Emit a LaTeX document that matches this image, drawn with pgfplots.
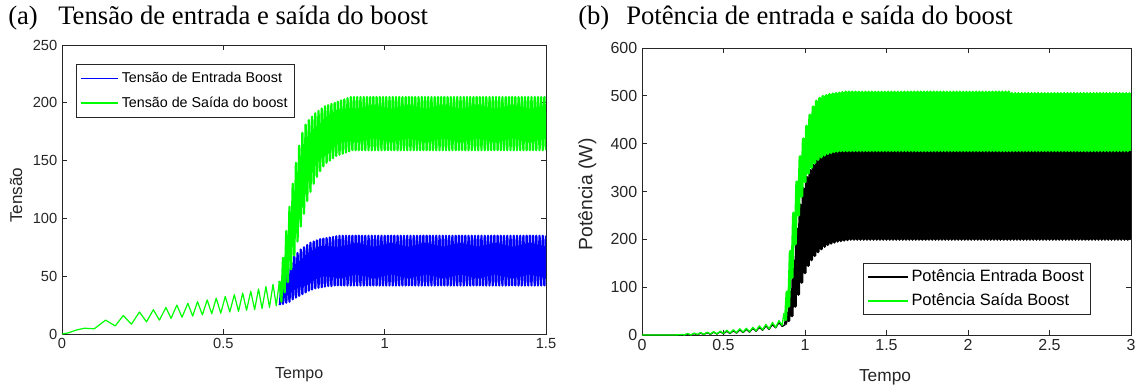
\documentclass[border=0pt]{standalone}
\usepackage{fontspec}
\setmainfont{Liberation Serif}
\setsansfont{Liberation Sans}
\usepackage{pgfplots}
\pgfplotsset{compat=1.18}
\definecolor{axgray}{RGB}{38,38,38}
\definecolor{mgreen}{RGB}{0,255,0}
\definecolor{mblue}{RGB}{0,0,255}
\pgfplotsset{mstyle/.style={
  scale only axis, anchor=north west,
  tick align=inside, tick pos=both,
  axis line style={draw=axgray, line width=0.6pt},
  major tick style={draw=axgray, line width=0.6pt},
  major tick length=3.75pt,
  /pgf/number format/assume math mode=true,
  ticklabel style={text=axgray},
  legend style={draw=axgray, line width=0.6pt, fill=white, cells={anchor=west}},
  legend cell align=left,
  clip mode=individual,
}}
\begin{document}
\begin{tikzpicture}
\useasboundingbox (0pt,0pt) rectangle (855.75pt,-288.75pt);
\node[anchor=base west, font=\fontsize{20}{24}\selectfont, inner sep=0pt] at (6pt,-18.75pt) {(a)};
\node[anchor=base west, font=\fontsize{20}{24}\selectfont, inner sep=0pt] at (43.5pt,-18.75pt) {Tensão de entrada e saída do boost};
\node[anchor=base west, font=\fontsize{20}{24}\selectfont, inner sep=0pt] at (433.5pt,-18.75pt) {(b)};
\node[anchor=base west, font=\fontsize{20}{24}\selectfont, inner sep=0pt] at (469.5pt,-18.75pt) {Potência de entrada e saída do boost};

\begin{axis}[mstyle,
  at={(46.5pt,-33.75pt)}, width=363pt, height=216.75pt,
  xmin=0, xmax=1.5, ymin=0, ymax=250,
  xtick={0,0.5,1,1.5}, ytick={0,50,100,150,200,250},
  ticklabel style={font=\sffamily\fontsize{11}{13}\selectfont},
  xlabel={Tempo}, ylabel={Tensão},
  every axis x label/.style={at={(axis description cs:0.49,-0.142)}, anchor=center, text=axgray, font=\sffamily\fontsize{12}{14}\selectfont},
  every axis y label/.style={at={(axis description cs:-0.095,0.48)}, anchor=center, rotate=90, text=axgray, font=\sffamily\fontsize{12.8}{14}\selectfont},
  legend style={at={(axis description cs:0.029,0.934)}, anchor=north west,
    font=\sffamily\fontsize{10.7}{12}\selectfont, inner xsep=3pt, inner ysep=4pt, row sep=5pt},
  legend image code/.code={\draw[line width=1.05pt] (0pt,0pt) -- (28pt,0pt);},
]
\addplot[mblue, line width=1.7pt, line join=round] coordinates {
(0.675,25) (0.68,42) (0.685,26) (0.69,50) (0.695,27) (0.70,56) (0.705,28) (0.71,62) (0.715,30) (0.72,67)
(0.725,31.5) (0.73,70) (0.735,33) (0.74,73) (0.745,34.5) (0.75,75) (0.755,36) (0.76,77) (0.765,37.5) (0.77,79)
(0.775,38.5) (0.78,80) (0.785,39.5) (0.79,81) (0.795,40) (0.80,82) (0.805,40.5) (0.81,82.5) (0.815,41) (0.82,83)
(0.825,41.5) (0.83,83.5) (0.835,41.5) (0.84,84) (0.845,42) (0.85,84.5) (0.855,42) (0.86,85)
(0.865,42) (0.87,85) (0.875,42) (0.88,85) (0.885,42) (0.89,85) (0.895,42) (0.90,85)
(0.905,42) (0.91,85) (0.915,42) (0.92,85) (0.925,42) (0.93,85) (0.935,42) (0.94,85) (0.945,42) (0.95,85)
(0.955,42) (0.96,85) (0.965,42) (0.97,85) (0.975,42) (0.98,85) (0.985,42) (0.99,85) (0.995,42) (1.00,85)
(1.005,42) (1.01,85) (1.015,42) (1.02,85) (1.025,42) (1.03,85) (1.035,42) (1.04,85) (1.045,42) (1.05,85)
(1.055,42) (1.06,85) (1.065,42) (1.07,85) (1.075,42) (1.08,85) (1.085,42) (1.09,85) (1.095,42) (1.10,85)
(1.105,42) (1.11,85) (1.115,42) (1.12,85) (1.125,42) (1.13,85) (1.135,42) (1.14,85) (1.145,42) (1.15,85)
(1.155,42) (1.16,85) (1.165,42) (1.17,85) (1.175,42) (1.18,85) (1.185,42) (1.19,85) (1.195,42) (1.20,85)
(1.205,42) (1.21,85) (1.215,42) (1.22,85) (1.225,42) (1.23,85) (1.235,42) (1.24,85) (1.245,42) (1.25,85)
(1.255,42) (1.26,85) (1.265,42) (1.27,85) (1.275,42) (1.28,85) (1.285,42) (1.29,85) (1.295,42) (1.30,85)
(1.305,42) (1.31,85) (1.315,42) (1.32,85) (1.325,42) (1.33,85) (1.335,42) (1.34,85) (1.345,42) (1.35,85)
(1.355,42) (1.36,85) (1.365,42) (1.37,85) (1.375,42) (1.38,85) (1.385,42) (1.39,85) (1.395,42) (1.40,85)
(1.405,42) (1.41,85) (1.415,42) (1.42,85) (1.425,42) (1.43,85) (1.435,42) (1.44,85) (1.445,42) (1.45,85)
(1.455,42) (1.46,85) (1.465,42) (1.47,85) (1.475,42) (1.48,85) (1.485,42) (1.49,85) (1.495,42) (1.50,85)
};
\addlegendentry{Tensão de Entrada Boost}
\addplot[mgreen, line width=1.7pt, line join=round] coordinates {
(0.674,46)
(0.68,28) (0.685,66) (0.69,36) (0.695,89) (0.70,45) (0.705,110) (0.71,56) (0.715,130) (0.72,68) (0.725,148)
(0.73,80) (0.735,163) (0.74,93) (0.745,174) (0.75,104) (0.755,181) (0.76,115) (0.765,185) (0.77,123) (0.775,188)
(0.78,130) (0.785,191) (0.79,136) (0.795,193) (0.80,141) (0.805,195) (0.81,145) (0.815,197) (0.82,148) (0.825,198)
(0.83,150) (0.835,199) (0.84,152) (0.845,200) (0.85,154) (0.855,201) (0.86,155) (0.865,202) (0.87,156) (0.875,203)
(0.88,157) (0.885,204) (0.89,158) (0.895,205) (0.90,159)
(0.905,205) (0.91,159) (0.915,205) (0.92,159) (0.925,205) (0.93,159) (0.935,205) (0.94,159) (0.945,205) (0.95,159)
(0.955,205) (0.96,159) (0.965,205) (0.97,159) (0.975,205) (0.98,159) (0.985,205) (0.99,159) (0.995,205) (1.00,159)
(1.005,205) (1.01,159) (1.015,205) (1.02,159) (1.025,205) (1.03,159) (1.035,205) (1.04,159) (1.045,205) (1.05,159)
(1.055,205) (1.06,159) (1.065,205) (1.07,159) (1.075,205) (1.08,159) (1.085,205) (1.09,159) (1.095,205) (1.10,159)
(1.105,205) (1.11,159) (1.115,205) (1.12,159) (1.125,205) (1.13,159) (1.135,205) (1.14,159) (1.145,205) (1.15,159)
(1.155,205) (1.16,159) (1.165,205) (1.17,159) (1.175,205) (1.18,159) (1.185,205) (1.19,159) (1.195,205) (1.20,159)
(1.205,205) (1.21,159) (1.215,205) (1.22,159) (1.225,205) (1.23,159) (1.235,205) (1.24,159) (1.245,205) (1.25,159)
(1.255,205) (1.26,159) (1.265,205) (1.27,159) (1.275,205) (1.28,159) (1.285,205) (1.29,159) (1.295,205) (1.30,159)
(1.305,205) (1.31,159) (1.315,205) (1.32,159) (1.325,205) (1.33,159) (1.335,205) (1.34,159) (1.345,205) (1.35,159)
(1.355,205) (1.36,159) (1.365,205) (1.37,159) (1.375,205) (1.38,159) (1.385,205) (1.39,159) (1.395,205) (1.40,159)
(1.405,205) (1.41,159) (1.415,205) (1.42,159) (1.425,205) (1.43,159) (1.435,205) (1.44,159) (1.445,205) (1.45,159)
(1.455,205) (1.46,159) (1.465,205) (1.47,159) (1.475,205) (1.48,159) (1.485,205) (1.49,159) (1.495,205) (1.50,159)
};
\addlegendentry{Tensão de Saída do boost}
\addplot[mgreen, line width=0.9pt, line join=round, forget plot] coordinates {
(0,0) (0.02,1) (0.045,3.5) (0.07,5) (0.1,4.5) (0.135,12) (0.165,7) (0.19,16) (0.215,8.5) (0.24,19)
(0.262,10.5) (0.283,21) (0.302,12) (0.322,23) (0.338,13.5) (0.356,25) (0.372,14.5) (0.39,26.5) (0.405,15.5) (0.42,28)
(0.435,16.5) (0.45,29.5) (0.464,17.5) (0.478,31) (0.492,18) (0.506,32.5) (0.52,19) (0.534,34) (0.547,19.5) (0.56,35.5)
(0.572,20.5) (0.585,37) (0.597,21) (0.609,39) (0.62,22) (0.632,41) (0.643,23) (0.654,43) (0.664,24.5) (0.674,46)
};
\end{axis}

\begin{axis}[mstyle,
  at={(481.5pt,-36pt)}, width=366.75pt, height=215.25pt,
  xmin=0, xmax=3, ymin=0, ymax=600,
  xtick={0,0.5,1,1.5,2,2.5,3}, ytick={0,100,200,300,400,500,600},
  ticklabel style={font=\sffamily\fontsize{12}{14}\selectfont},
  xlabel={Tempo}, ylabel={Potência (W)},
  every axis x label/.style={at={(axis description cs:0.497,-0.146)}, anchor=center, text=axgray, font=\sffamily\fontsize{13}{15}\selectfont},
  every axis y label/.style={at={(axis description cs:-0.112,0.49)}, anchor=center, rotate=90, text=axgray, font=\sffamily\fontsize{14.5}{16}\selectfont},
  legend style={at={(axis description cs:0.918,0.0697)}, anchor=south east,
    font=\sffamily\fontsize{12.3}{14}\selectfont, inner xsep=3pt, inner ysep=3pt, row sep=3.5pt},
  legend image code/.code={\draw[line width=1.05pt] (0pt,0pt) -- (30pt,0pt);},
]
\addplot[black, line width=1pt, line join=round, forget plot] coordinates {
(0,0) (0.22,0) (0.26,0.5) (0.28,2) (0.30,0) (0.32,3) (0.34,0.5) (0.36,4) (0.38,1) (0.40,5)
(0.42,1.5) (0.44,6) (0.46,2) (0.48,7) (0.50,2.5) (0.52,8) (0.54,3) (0.56,9) (0.58,4) (0.60,11)
(0.62,5) (0.64,12) (0.66,6) (0.68,14) (0.70,8) (0.72,16) (0.74,10) (0.76,19) (0.78,12) (0.80,22)
(0.82,15) (0.84,26) (0.86,18) (0.88,22)
};
\addplot[black, line width=2.3pt, line join=round] coordinates {
(0.88,22) (0.89,45) (0.90,30) (0.91,90) (0.92,40) (0.93,155) (0.94,60) (0.95,222) (0.96,85) (0.97,272)
(0.98,110) (0.99,306) (1.00,130) (1.01,330) (1.02,145) (1.03,345) (1.04,157) (1.05,355) (1.06,166) (1.07,364)
(1.08,174) (1.09,370) (1.10,180) (1.11,374) (1.12,185) (1.13,377) (1.14,189) (1.15,380) (1.16,192) (1.17,382)
(1.18,194) (1.19,383) (1.20,196) (1.21,384) (1.22,197) (1.23,385) (1.24,198) (1.25,385) (1.26,199) (1.27,385)
(1.28,200) (1.29,385) (1.30,200) (1.31,385) (1.32,200) (1.33,385) (1.34,200) (1.35,385) (1.36,200) (1.37,385)
(1.38,200) (1.39,385) (1.40,200) (1.41,385) (1.42,200) (1.43,385) (1.44,200) (1.45,385) (1.46,200) (1.47,385)
(1.48,200) (1.49,385) (1.50,200) (1.51,385) (1.52,200) (1.53,385) (1.54,200) (1.55,385) (1.56,200) (1.57,385)
(1.58,200) (1.59,385) (1.60,200) (1.61,385) (1.62,200) (1.63,385) (1.64,200) (1.65,385) (1.66,200) (1.67,385)
(1.68,200) (1.69,385) (1.70,200) (1.71,385) (1.72,200) (1.73,385) (1.74,200) (1.75,385) (1.76,200) (1.77,385)
(1.78,200) (1.79,385) (1.80,200) (1.81,385) (1.82,200) (1.83,385) (1.84,200) (1.85,385) (1.86,200) (1.87,385)
(1.88,200) (1.89,385) (1.90,200) (1.91,385) (1.92,200) (1.93,385) (1.94,200) (1.95,385) (1.96,200) (1.97,385)
(1.98,200) (1.99,385) (2.00,200) (2.01,385) (2.02,200) (2.03,385) (2.04,200) (2.05,385) (2.06,200) (2.07,385)
(2.08,200) (2.09,385) (2.10,200) (2.11,385) (2.12,200) (2.13,385) (2.14,200) (2.15,385) (2.16,200) (2.17,385)
(2.18,200) (2.19,385) (2.20,200) (2.21,385) (2.22,200) (2.23,385) (2.24,200) (2.25,385) (2.26,200) (2.27,385)
(2.28,200) (2.29,385) (2.30,200) (2.31,385) (2.32,200) (2.33,385) (2.34,200) (2.35,385) (2.36,200) (2.37,385)
(2.38,200) (2.39,385) (2.40,200) (2.41,385) (2.42,200) (2.43,385) (2.44,200) (2.45,385) (2.46,200) (2.47,385)
(2.48,200) (2.49,385) (2.50,200) (2.51,385) (2.52,200) (2.53,385) (2.54,200) (2.55,385) (2.56,200) (2.57,385)
(2.58,200) (2.59,385) (2.60,200) (2.61,385) (2.62,200) (2.63,385) (2.64,200) (2.65,385) (2.66,200) (2.67,385)
(2.68,200) (2.69,385) (2.70,200) (2.71,385) (2.72,200) (2.73,385) (2.74,200) (2.75,385) (2.76,200) (2.77,385)
(2.78,200) (2.79,385) (2.80,200) (2.81,385) (2.82,200) (2.83,385) (2.84,200) (2.85,385) (2.86,200) (2.87,385)
(2.88,200) (2.89,385) (2.90,200) (2.91,385) (2.92,200) (2.93,385) (2.94,200) (2.95,385) (2.96,200) (2.97,385)
(2.98,200) (2.99,385) (3.00,200)
};
\addlegendentry{Potência Entrada Boost}
\addplot[mgreen, line width=1pt, line join=round, forget plot] coordinates {
(0,0) (0.2,0) (0.25,1) (0.26,0) (0.28,3) (0.30,0) (0.32,4) (0.34,1) (0.36,5) (0.38,1)
(0.40,6) (0.42,2) (0.44,7) (0.46,2) (0.48,8) (0.50,3) (0.52,10) (0.54,4) (0.56,11) (0.58,5)
(0.60,13) (0.62,6) (0.64,14) (0.66,7) (0.68,16) (0.70,9) (0.72,19) (0.74,11) (0.76,22) (0.78,13)
(0.80,26) (0.82,16) (0.84,30) (0.86,20) (0.87,45) (0.88,30)
};
\addplot[mgreen, line width=2.3pt, line join=round] coordinates {
(0.88,30) (0.89,90) (0.90,60) (0.91,175) (0.92,120) (0.93,255) (0.94,190) (0.95,320) (0.96,250) (0.97,373)
(0.98,290) (0.99,410) (1.00,320) (1.01,437) (1.02,338) (1.03,460) (1.04,350) (1.05,477) (1.06,360) (1.07,489)
(1.08,367) (1.09,495) (1.10,372) (1.11,499) (1.12,376) (1.13,501) (1.14,379) (1.15,503) (1.16,381) (1.17,504)
(1.18,383) (1.19,505) (1.20,384) (1.21,506) (1.22,385) (1.23,507) (1.24,385) (1.25,508) (1.26,385) (1.27,508)
(1.28,385) (1.29,508) (1.30,385) (1.31,508) (1.32,385) (1.33,508) (1.34,385) (1.35,508) (1.36,385) (1.37,508)
(1.38,385) (1.39,508) (1.40,385) (1.41,508) (1.42,385) (1.43,508) (1.44,385) (1.45,508) (1.46,385) (1.47,508)
(1.48,385) (1.49,508) (1.50,385) (1.51,508) (1.52,385) (1.53,508) (1.54,385) (1.55,508) (1.56,385) (1.57,508)
(1.58,385) (1.59,508) (1.60,385) (1.61,508) (1.62,385) (1.63,508) (1.64,385) (1.65,508) (1.66,385) (1.67,508)
(1.68,385) (1.69,508) (1.70,385) (1.71,508) (1.72,385) (1.73,508) (1.74,385) (1.75,508) (1.76,385) (1.77,508)
(1.78,385) (1.79,508) (1.80,385) (1.81,508) (1.82,385) (1.83,508) (1.84,385) (1.85,508) (1.86,385) (1.87,508)
(1.88,385) (1.89,508) (1.90,385) (1.91,508) (1.92,385) (1.93,508) (1.94,385) (1.95,508) (1.96,385) (1.97,508)
(1.98,385) (1.99,508) (2.00,385) (2.01,508) (2.02,385) (2.03,508) (2.04,385) (2.05,508) (2.06,385) (2.07,508)
(2.08,385) (2.09,508) (2.10,385) (2.11,508) (2.12,385) (2.13,508) (2.14,385) (2.15,508) (2.16,385) (2.17,508)
(2.18,385) (2.19,508) (2.20,385) (2.21,508) (2.22,385) (2.23,508) (2.24,385) (2.25,508) (2.26,385) (2.27,505)
(2.28,385) (2.29,505) (2.30,385) (2.31,505) (2.32,385) (2.33,505) (2.34,385) (2.35,505) (2.36,385) (2.37,505)
(2.38,385) (2.39,505) (2.40,385) (2.41,505) (2.42,385) (2.43,505) (2.44,385) (2.45,505) (2.46,385) (2.47,505)
(2.48,385) (2.49,505) (2.50,385) (2.51,505) (2.52,385) (2.53,505) (2.54,385) (2.55,505) (2.56,385) (2.57,505)
(2.58,385) (2.59,505) (2.60,385) (2.61,505) (2.62,385) (2.63,505) (2.64,385) (2.65,505) (2.66,385) (2.67,505)
(2.68,385) (2.69,505) (2.70,385) (2.71,505) (2.72,385) (2.73,505) (2.74,385) (2.75,505) (2.76,385) (2.77,505)
(2.78,385) (2.79,505) (2.80,385) (2.81,505) (2.82,385) (2.83,505) (2.84,385) (2.85,505) (2.86,385) (2.87,505)
(2.88,385) (2.89,505) (2.90,385) (2.91,505) (2.92,385) (2.93,505) (2.94,385) (2.95,505) (2.96,385) (2.97,505)
(2.98,385) (2.99,505) (3.00,385)
};
\addlegendentry{Potência Saída Boost}
\end{axis}
\end{tikzpicture}
\end{document}
